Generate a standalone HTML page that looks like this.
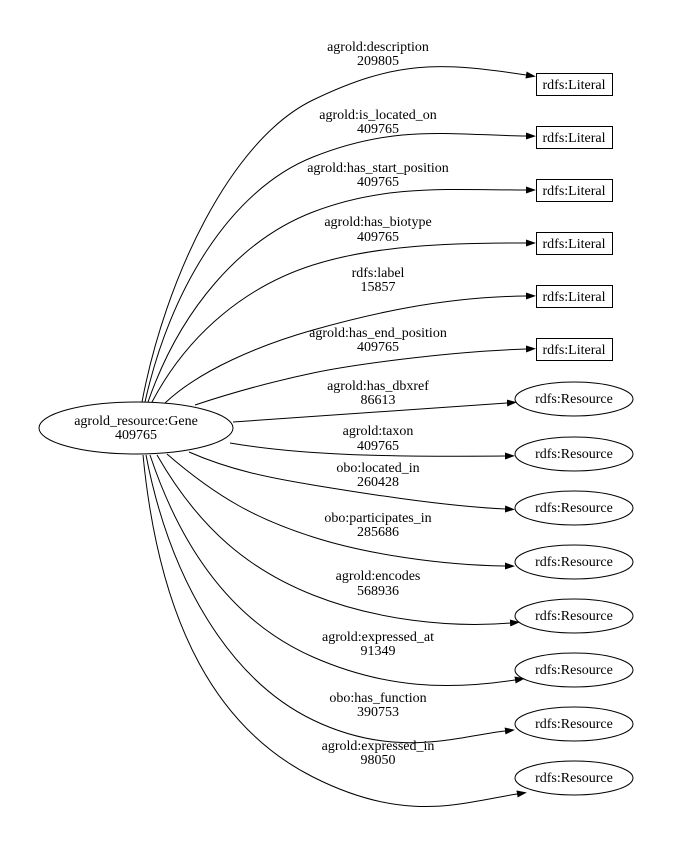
<!DOCTYPE html>
<html><head><meta charset="utf-8"><style>
html,body{margin:0;padding:0;background:#fff;}
svg{display:block;}
text{font-family:"Liberation Serif",serif;font-size:14px;fill:#000;}
</style></head><body>
<svg width="674" height="841" viewBox="0 0 674 841" xmlns="http://www.w3.org/2000/svg">
<defs>
<marker id="a" markerUnits="userSpaceOnUse" markerWidth="11" markerHeight="8" refX="0" refY="3.5" orient="auto">
<path d="M0,0 L10,3.5 L0,7 z" fill="#000"/>
</marker>
</defs>
<g fill="none" stroke="#000" stroke-width="1" marker-end="url(#a)">
<path d="M142,402 C165,280 230,140 313,100 S440,62 526,75"/>
<path d="M145,402 C170,290 230,190 313,157 S450,135 526,136"/>
<path d="M148,402 C180,310 240,240 313,212 S450,190 526,190"/>
<path d="M152,402 C190,330 250,285 313,265 S450,243 526,243"/>
<path d="M165,403 C200,370 260,345 313,330 S440,297 526,296"/>
<path d="M195,405 C240,390 280,380 313,373 S440,352 526,349"/>
<path d="M233,422 L507,403"/>
<path d="M230,443 C300,455 380,457 505,456"/>
<path d="M189,452 C230,470 270,478 313,485 S440,506 505,509"/>
<path d="M167,454 C220,500 260,520 313,537 S440,565 505,566"/>
<path d="M157,455 C200,530 250,570 313,595 S450,628 510,623"/>
<path d="M150,455 C185,560 240,625 313,657 S450,690 515,680"/>
<path d="M146,455 C170,580 230,680 313,720 S460,736 505,731"/>
<path d="M143,455 C160,630 220,730 313,777 S460,803 517,794"/>
</g>
<g fill="none" stroke="#000" stroke-width="1">
<ellipse cx="136" cy="428" rx="97" ry="26"/>
<rect x="536.5" y="73.5" width="76" height="22"/>
<rect x="536.5" y="126.5" width="76" height="22"/>
<rect x="536.5" y="179.5" width="76" height="22"/>
<rect x="536.5" y="232.5" width="76" height="22"/>
<rect x="536.5" y="285.5" width="76" height="22"/>
<rect x="536.5" y="338.5" width="76" height="22"/>
<ellipse cx="574" cy="399" rx="59" ry="17"/>
<ellipse cx="574" cy="454" rx="59" ry="17"/>
<ellipse cx="574" cy="508" rx="59" ry="17"/>
<ellipse cx="574" cy="562" rx="59" ry="17"/>
<ellipse cx="574" cy="616" rx="59" ry="17"/>
<ellipse cx="574" cy="670" rx="59" ry="17"/>
<ellipse cx="574" cy="724" rx="59" ry="17"/>
<ellipse cx="574" cy="778" rx="59" ry="17"/>
</g>
<g text-anchor="middle">
<text x="136" y="425">agrold_resource:Gene</text>
<text x="136" y="439">409765</text>
<text x="574" y="89">rdfs:Literal</text>
<text x="574" y="142">rdfs:Literal</text>
<text x="574" y="195">rdfs:Literal</text>
<text x="574" y="248">rdfs:Literal</text>
<text x="574" y="301">rdfs:Literal</text>
<text x="574" y="354">rdfs:Literal</text>
<text x="574" y="403">rdfs:Resource</text>
<text x="574" y="458">rdfs:Resource</text>
<text x="574" y="512">rdfs:Resource</text>
<text x="574" y="566">rdfs:Resource</text>
<text x="574" y="620">rdfs:Resource</text>
<text x="574" y="674">rdfs:Resource</text>
<text x="574" y="728">rdfs:Resource</text>
<text x="574" y="782">rdfs:Resource</text>

<text x="378" y="51">agrold:description</text><text x="378" y="65">209805</text>
<text x="378" y="119">agrold:is_located_on</text><text x="378" y="133">409765</text>
<text x="378" y="172">agrold:has_start_position</text><text x="378" y="186">409765</text>
<text x="378" y="226">agrold:has_biotype</text><text x="378" y="241">409765</text>
<text x="378" y="277">rdfs:label</text><text x="378" y="291">15857</text>
<text x="378" y="337">agrold:has_end_position</text><text x="378" y="351">409765</text>
<text x="378" y="390">agrold:has_dbxref</text><text x="378" y="404">86613</text>
<text x="378" y="435">agrold:taxon</text><text x="378" y="450">409765</text>
<text x="378" y="472">obo:located_in</text><text x="378" y="486">260428</text>
<text x="378" y="522">obo:participates_in</text><text x="378" y="536">285686</text>
<text x="378" y="580">agrold:encodes</text><text x="378" y="595">568936</text>
<text x="378" y="641">agrold:expressed_at</text><text x="378" y="655">91349</text>
<text x="378" y="702">obo:has_function</text><text x="378" y="716">390753</text>
<text x="378" y="750">agrold:expressed_in</text><text x="378" y="764">98050</text>
</g>
</svg>
</body></html>
